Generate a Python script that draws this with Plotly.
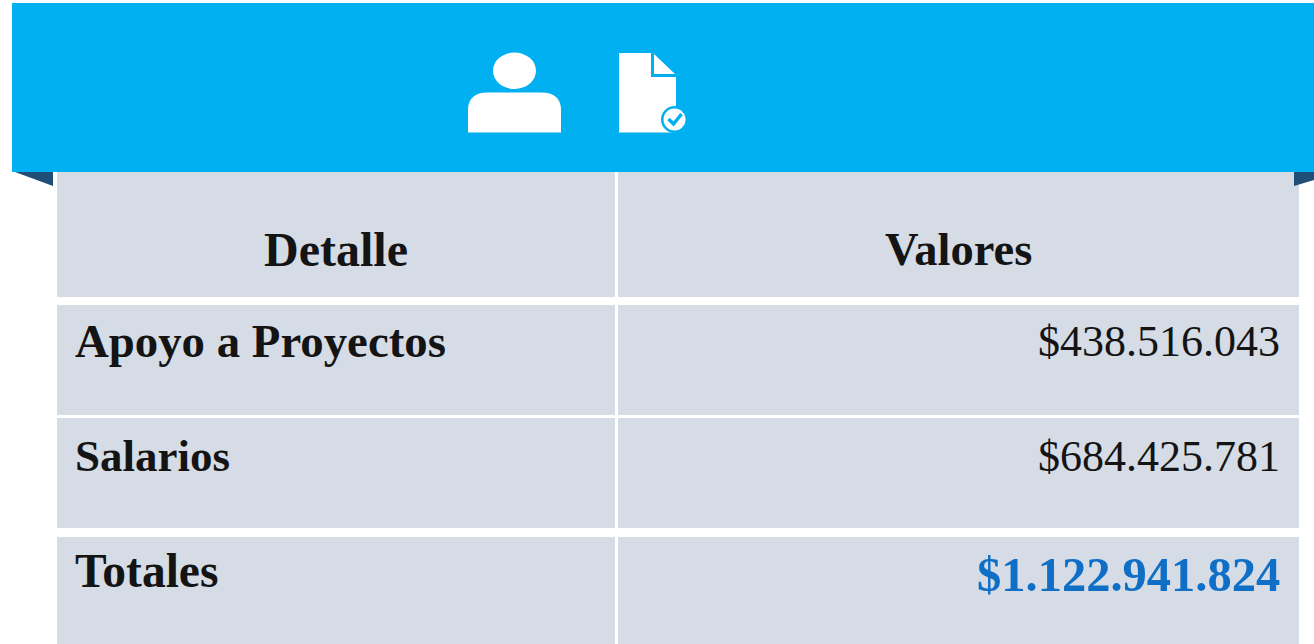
import plotly.graph_objects as go

W, H = 1314, 644
headers = ["Detalle", "Valores"]
details = ["Apoyo a Proyectos", "Salarios", "Totales"]
values = ["$438.516.043", "$684.425.781", "$1.122.941.824"]

BLUE = "#00B0F0"
FOLD = "#1F4E79"
CELL = "#D5DCE6"
INK = "#141414"
TOTAL = "#0F6FC6"
FONT = "Liberation Serif"

# cell edges on the page, in pixels
COLS = [(57, 615), (618, 1299)]
ROWS = [(172, 297), (305, 415), (418, 528), (537, 644)]
# text centres on the page, in pixels
HEAD_Y = 249
ROW_Y = [341, 456, 571]
DETAIL_SIZE = [46.8, 45, 47.5]


def fx(x):
    return x / W


def fy(y):
    return 1 - y / H


def path(pts):
    return "M " + " L ".join(f"{fx(x):.5f},{fy(y):.5f}" for x, y in pts) + " Z"


def poly(pts, color):
    return dict(type="path", xref="paper", yref="paper", path=path(pts),
                fillcolor=color, line=dict(width=0), layer="above")


def rect(x0, y0, x1, y1, color):
    return dict(type="rect", xref="paper", yref="paper", x0=fx(x0), x1=fx(x1),
                y0=fy(y0), y1=fy(y1), fillcolor=color, line=dict(width=0), layer="above")


def ell(x0, y0, x1, y1, color):
    return dict(type="circle", xref="paper", yref="paper", x0=fx(x0), x1=fx(x1),
                y0=fy(y0), y1=fy(y1), fillcolor=color, line=dict(width=0), layer="above")


def label(text, x, y, anchor, size, color=INK):
    return dict(text=text, xref="paper", yref="paper", x=fx(x), y=fy(y), xanchor=anchor,
                yanchor="middle", showarrow=False, font=dict(family=FONT, size=size, color=color))


shapes = [rect(c[0], r[0], c[1], r[1], CELL) for c in COLS for r in ROWS]
shapes += [
    rect(12, 3, W, 172, BLUE),
    poly([(15, 172), (53, 172), (53, 186)], FOLD),
    poly([(1294, 172), (1314, 172), (1314, 180), (1294, 186)], FOLD),
    # person icon
    ell(493, 52.5, 536, 89, "white"),
    dict(type="path", xref="paper", yref="paper", line=dict(width=0), fillcolor="white", layer="above",
         path=(f"M {fx(468):.5f},{fy(132.5):.5f} L {fx(468):.5f},{fy(110):.5f} "
               f"Q {fx(468):.5f},{fy(92.5):.5f} {fx(488):.5f},{fy(92.5):.5f} "
               f"L {fx(541):.5f},{fy(92.5):.5f} Q {fx(561):.5f},{fy(92.5):.5f} {fx(561):.5f},{fy(110):.5f} "
               f"L {fx(561):.5f},{fy(132.5):.5f} Z")),
    # document icon
    poly([(619, 53), (651, 53), (651, 77), (676, 77), (676, 132.5), (619, 132.5)], "white"),
    poly([(654, 54), (675, 74), (654, 74)], "white"),
    ell(661, 106, 688, 133, BLUE),
    ell(663.5, 108.5, 685.5, 130.5, "white"),
    dict(type="path", xref="paper", yref="paper", fillcolor="rgba(0,0,0,0)",
         line=dict(color=BLUE, width=3.5), layer="above",
         path=f"M {fx(668.5):.5f},{fy(119):.5f} L {fx(673.5):.5f},{fy(124):.5f} L {fx(681.5):.5f},{fy(114):.5f}"),
]

annotations = [
    label(f"<b>{headers[0]}</b>", 336, HEAD_Y, "center", 48),
    label(f"<b>{headers[1]}</b>", 958, HEAD_Y, "center", 46.5),
]
for i, (d, v) in enumerate(zip(details, values)):
    annotations.append(label(f"<b>{d}</b>", 72.5, ROW_Y[i], "left", DETAIL_SIZE[i]))
    if i == len(values) - 1:
        annotations.append(label(f"<b>{v}</b>", 1281.5, ROW_Y[i] + 3, "right", 48.5, TOTAL))
    else:
        annotations.append(label(v, 1281.5, ROW_Y[i], "right", 44))

fig = go.Figure()
fig.update_layout(
    width=W, height=H,
    margin=dict(l=0, r=0, t=0, b=0),
    paper_bgcolor="white",
    plot_bgcolor="white",
    xaxis=dict(visible=False),
    yaxis=dict(visible=False),
    shapes=shapes,
    annotations=annotations,
)
fig.write_html("out.html", config=dict(displayModeBar=False),
               post_script="document.body.style.margin='0';document.body.style.overflow='hidden';")
